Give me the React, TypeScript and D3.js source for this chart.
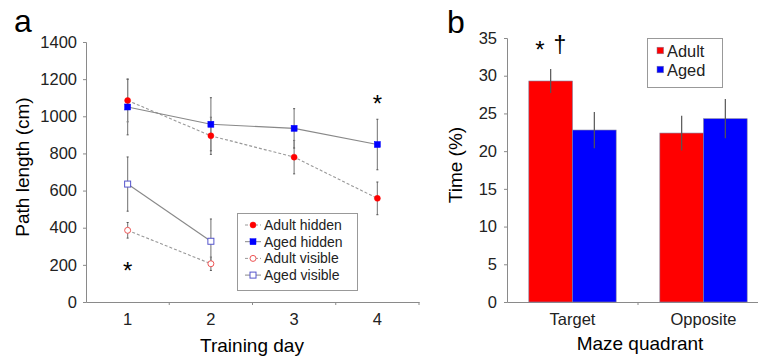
import * as d3 from 'd3';
import React, { useEffect } from 'react';

// Panel a: path length per training day
const days = ['1', '2', '3', '4'];
const adultHidden = [1085, 895, 780, 558];
const adultHiddenErr = [115, 100, 90, 88];
const agedHidden = [1050, 957, 935, 848];
const agedHiddenErr = [150, 143, 106, 136];
const adultVisible = [386, 206];
const adultVisibleErr = [42, 36];
const agedVisible = [635, 327];
const agedVisibleErr = [146, 120];
const pathTicks = [0, 200, 400, 600, 800, 1000, 1200, 1400];

// Panel b: time in quadrant
const quadrants = ['Target', 'Opposite'];
const groups = ['Adult', 'Aged'];
const timeAdult = [29.3, 22.4];
const timeAdultErr = [1.6, 2.3];
const timeAged = [22.8, 24.3];
const timeAgedErr = [2.4, 2.6];
const timeTicks = [0, 5, 10, 15, 20, 25, 30, 35];

const FONT = '"Liberation Sans", Arial, sans-serif';
const AXIS = '#8a8a8a';
const TICK_FS = 16.5;
const TITLE_FS = 19;

export default function App() {
  const ref = React.useRef<SVGSVGElement>(null);

  useEffect(() => {
    if (!ref.current) return;
    document.body.style.margin = '0';
    const svg = d3.select(ref.current);
    svg.selectAll('*').remove();
    svg.attr('font-family', FONT);

    // ---------- panel a ----------
    const x = d3.scaleBand().domain(days).range([86, 419]);
    const y = d3.scaleLinear().domain([0, 1400]).range([302, 42]);
    const cx = (i: number) => (x(days[i]) ?? 0) + x.bandwidth() / 2;

    const a = svg.append('g');
    a.append('text').attr('x', 14).attr('y', 32).attr('font-size', 32).text('a');

    const yAxis = a
      .append('g')
      .attr('transform', 'translate(86,0)')
      .call(d3.axisLeft(y).tickValues(pathTicks).tickFormat(d3.format('d')).tickSize(3).tickPadding(6));
    const xAxis = a
      .append('g')
      .attr('transform', 'translate(0,302)')
      .call(d3.axisBottom(x).tickSize(0).tickPadding(11));
    // ticks between days
    xAxis
      .selectAll('line.sep')
      .data(days)
      .enter()
      .append('line')
      .attr('class', 'sep')
      .attr('x1', d => (x(d) ?? 0) + x.bandwidth())
      .attr('x2', d => (x(d) ?? 0) + x.bandwidth())
      .attr('y1', 0)
      .attr('y2', 3)
      .attr('stroke', AXIS);
    [yAxis, xAxis].forEach(g => {
      g.select('.domain').attr('stroke', AXIS);
      g.selectAll('.tick line').attr('stroke', AXIS);
      g.selectAll('text').attr('font-size', TICK_FS).attr('fill', '#222').attr('font-family', FONT);
    });

    a.append('text')
      .attr('x', 252)
      .attr('y', 352)
      .attr('text-anchor', 'middle')
      .attr('font-size', TITLE_FS)
      .text('Training day');
    a.append('text')
      .attr('transform', 'translate(29,167) rotate(-90)')
      .attr('text-anchor', 'middle')
      .attr('font-size', TITLE_FS)
      .text('Path length (cm)');

    const series = [
      { vals: adultHidden, err: adultHiddenErr, color: '#ff0000', shape: 'circle', filled: true, dash: '3,2', line: '#999' },
      { vals: agedHidden, err: agedHiddenErr, color: '#0000ff', shape: 'square', filled: true, dash: null, line: '#888' },
      { vals: adultVisible, err: adultVisibleErr, color: '#ee5555', shape: 'circle', filled: false, dash: '3,2', line: '#999' },
      { vals: agedVisible, err: agedVisibleErr, color: '#5555cc', shape: 'square', filled: false, dash: null, line: '#888' },
    ];

    // error bars
    series.forEach(s => {
      const eg = a.append('g');
      s.vals.forEach((v, i) => {
        const top = y(v + s.err[i]);
        const bot = y(v - s.err[i]);
        eg.append('line').attr('x1', cx(i)).attr('x2', cx(i)).attr('y1', top).attr('y2', bot).attr('stroke', '#888').attr('stroke-width', 1.2);
        [top, bot].forEach(yy =>
          eg.append('line').attr('x1', cx(i) - 1).attr('x2', cx(i) + 1).attr('y1', yy).attr('y2', yy).attr('stroke', '#555')
        );
      });
    });

    const line = d3
      .line<number>()
      .x((d, i) => cx(i))
      .y(d => y(d));

    const drawMarker = (g: any, s: any, px: number, py: number) => {
      if (s.shape === 'circle') {
        g.append('circle')
          .attr('cx', px)
          .attr('cy', py)
          .attr('r', 3)
          .attr('fill', s.filled ? s.color : '#fff')
          .attr('stroke', s.color)
          .attr('stroke-width', s.filled ? 0.5 : 1);
      } else {
        g.append('rect')
          .attr('x', px - 3)
          .attr('y', py - 3)
          .attr('width', 6)
          .attr('height', 6)
          .attr('fill', s.filled ? s.color : '#fff')
          .attr('stroke', s.color)
          .attr('stroke-width', s.filled ? 0.5 : 1);
      }
    };

    series.forEach(s => {
      a.append('path')
        .attr('d', line(s.vals))
        .attr('fill', 'none')
        .attr('stroke', s.line)
        .attr('stroke-width', 1.1)
        .attr('stroke-dasharray', s.dash);
      const mg = a.append('g');
      s.vals.forEach((v, i) => drawMarker(mg, s, cx(i), y(v)));
    });

    a.append('text').attr('x', cx(0)).attr('y', 279).attr('text-anchor', 'middle').attr('font-size', 24).text('*');
    a.append('text').attr('x', cx(3)).attr('y', 112).attr('text-anchor', 'middle').attr('font-size', 24).text('*');

    // legend a
    const legendNames = ['Adult hidden', 'Aged hidden', 'Adult visible', 'Aged visible'];
    const lg = a.append('g');
    lg.append('rect').attr('x', 237.5).attr('y', 213.5).attr('width', 120).attr('height', 77).attr('fill', '#fff').attr('stroke', '#999');
    series.forEach((s, i) => {
      const ly = 225 + i * 16.7;
      lg.append('line').attr('x1', 245).attr('x2', 261).attr('y1', ly).attr('y2', ly).attr('stroke', s.line).attr('stroke-dasharray', s.dash);
      drawMarker(lg, s, 253, ly);
      lg.append('text').attr('x', 264).attr('y', ly + 5).attr('font-size', 14).attr('fill', '#222').text(legendNames[i]);
    });

    // ---------- panel b ----------
    const xb = d3.scaleBand().domain(quadrants).range([507, 769]);
    const xg = d3.scaleBand().domain(groups).range([0, xb.bandwidth()]).paddingOuter(0.5).paddingInner(0);
    const yb = d3.scaleLinear().domain([0, 35]).range([302, 38]);

    const b = svg.append('g');
    b.append('text').attr('x', 447).attr('y', 33).attr('font-size', 32).text('b');

    const ybAxis = b
      .append('g')
      .attr('transform', 'translate(507,0)')
      .call(d3.axisLeft(yb).tickValues(timeTicks).tickSize(3).tickPadding(7));
    const xbAxis = b
      .append('g')
      .attr('transform', 'translate(0,302)')
      .call(d3.axisBottom(xb).tickSize(0).tickPadding(11));
    xbAxis
      .append('line')
      .attr('x1', (xb('Opposite') ?? 0))
      .attr('x2', (xb('Opposite') ?? 0))
      .attr('y1', 0)
      .attr('y2', 3)
      .attr('stroke', AXIS);
    [ybAxis, xbAxis].forEach(g => {
      g.select('.domain').attr('stroke', AXIS);
      g.selectAll('.tick line').attr('stroke', AXIS);
      g.selectAll('text').attr('font-size', TICK_FS).attr('fill', '#222').attr('font-family', FONT);
    });

    const barSets = [
      { group: 'Adult', vals: timeAdult, err: timeAdultErr, color: '#ff0000' },
      { group: 'Aged', vals: timeAged, err: timeAgedErr, color: '#0000ff' },
    ];
    barSets.forEach(s => {
      s.vals.forEach((v, i) => {
        const bx = (xb(quadrants[i]) ?? 0) + (xg(s.group) ?? 0);
        b.append('rect')
          .attr('x', bx)
          .attr('y', yb(v))
          .attr('width', xg.bandwidth())
          .attr('height', yb(0) - yb(v))
          .attr('fill', s.color)
          .attr('stroke', '#8080a0')
          .attr('stroke-width', 0.6);
      });
    });
    barSets.forEach(s => {
      s.vals.forEach((v, i) => {
        const mx = (xb(quadrants[i]) ?? 0) + (xg(s.group) ?? 0) + xg.bandwidth() / 2;
        b.append('line')
          .attr('x1', mx)
          .attr('x2', mx)
          .attr('y1', yb(v + s.err[i]))
          .attr('y2', yb(v - s.err[i]))
          .attr('stroke', '#555')
          .attr('stroke-width', 1.2);
      });
    });

    b.append('text').attr('x', 640).attr('y', 350).attr('text-anchor', 'middle').attr('font-size', TITLE_FS).text('Maze quadrant');
    b.append('text')
      .attr('transform', 'translate(462,165) rotate(-90)')
      .attr('text-anchor', 'middle')
      .attr('font-size', TITLE_FS)
      .text('Time (%)');

    b.append('text').attr('x', 540).attr('y', 58).attr('text-anchor', 'middle').attr('font-size', 24).text('*');
    b.append('text').attr('x', 560).attr('y', 53).attr('text-anchor', 'middle').attr('font-size', 23).text('†');

    // legend b
    const lb = b.append('g');
    lb.append('rect').attr('x', 647.5).attr('y', 38.5).attr('width', 75).attr('height', 49).attr('fill', '#fff').attr('stroke', '#999');
    barSets.forEach((s, i) => {
      const ly = 50.5 + i * 19;
      lb.append('rect').attr('x', 657).attr('y', ly - 3.3).attr('width', 6.6).attr('height', 6.6).attr('fill', s.color).attr('stroke', '#8080a0').attr('stroke-width', 0.5);
      lb.append('text').attr('x', 667).attr('y', ly + 6).attr('font-size', 16.4).attr('fill', '#222').text(s.group);
    });
  }, []);

  return <svg ref={ref} width={758} height={358} style={{ display: 'block', background: '#fff' }} />;
}
